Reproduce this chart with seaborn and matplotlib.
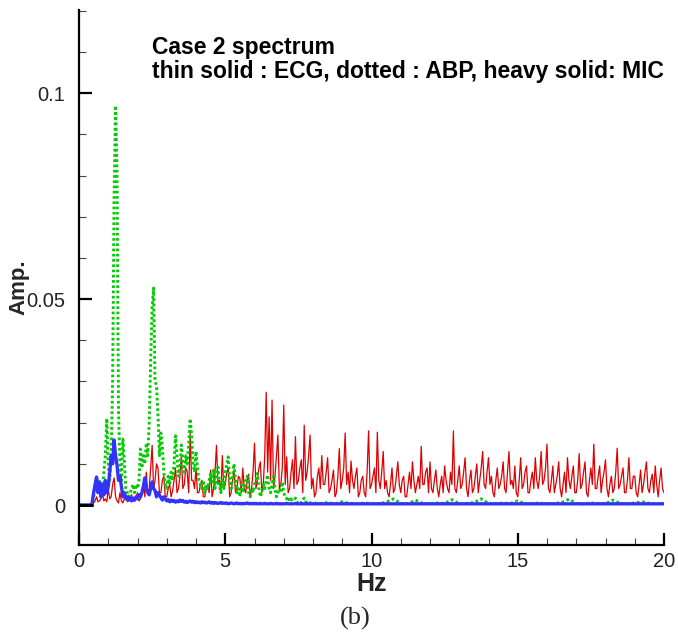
import numpy as np
import pandas as pd
import matplotlib
matplotlib.use("Agg")
import matplotlib.pyplot as plt
import seaborn as sns
from matplotlib.ticker import MultipleLocator, FixedLocator, FixedFormatter

# ---------------- data ----------------
# ECG (thin solid, red), 0.05 Hz bins from 0 to 20 Hz (one row = 1 Hz)
ecg_hz_step = 0.05
ecg_amp = [
    0, 0, 0, 0, 0, 0, 0, 0, 0, 0, 0.0005, 0.001, 0.002, 0.0008, 0.001, 0.0015, 0.003, 0.001, 0.0015, 0.0008,
    0.004, 0.0015, 0.002, 0.005, 0.0066, 0.002, 0.001, 0.0005, 0.003, 0.001, 0.0005, 0.0015, 0.002, 0.0008, 0.001, 0.002, 0.0025, 0.001, 0.001, 0.002,
    0.003, 0.001, 0.0015, 0.003, 0.005, 0.002, 0.008, 0.003, 0.004, 0.009, 0.0145, 0.004, 0.006, 0.010, 0.009, 0.003, 0.003, 0.006, 0.007, 0.002,
    0.002, 0.004, 0.005, 0.002, 0.0035, 0.006, 0.009, 0.003, 0.004, 0.007, 0.012, 0.004, 0.005, 0.009, 0.008, 0.003, 0.0175, 0.006, 0.006, 0.004,
    0.009, 0.003, 0.003, 0.005, 0.006, 0.002, 0.002, 0.004, 0.005, 0.003, 0.0085, 0.002, 0.004, 0.008, 0.0145, 0.005, 0.006, 0.003, 0.012, 0.004,
    0.005, 0.008, 0.009, 0.002, 0.003, 0.006, 0.0085, 0.003, 0.004, 0.007, 0.0065, 0.003, 0.009, 0.004, 0.003, 0.006, 0.0075, 0.002, 0.004, 0.008,
    0.015, 0.004, 0.006, 0.009, 0.0105, 0.003, 0.005, 0.012, 0.0274, 0.008, 0.0214, 0.006, 0.0255, 0.004, 0.007, 0.012, 0.017, 0.004, 0.005, 0.009,
    0.0243, 0.005, 0.0117, 0.003, 0.004, 0.008, 0.011, 0.004, 0.0166, 0.005, 0.006, 0.009, 0.011, 0.003, 0.0194, 0.006, 0.008, 0.012, 0.017, 0.004,
    0.0065, 0.002, 0.003, 0.007, 0.009, 0.004, 0.012, 0.005, 0.005, 0.008, 0.0115, 0.003, 0.004, 0.006, 0.0085, 0.002, 0.003, 0.007, 0.0137, 0.004,
    0.006, 0.009, 0.0175, 0.005, 0.008, 0.003, 0.0107, 0.006, 0.004, 0.007, 0.009, 0.002, 0.003, 0.006, 0.007, 0.003, 0.002, 0.008, 0.018, 0.004,
    0.005, 0.007, 0.009, 0.003, 0.0177, 0.006, 0.004, 0.008, 0.013, 0.004, 0.006, 0.003, 0.002, 0.005, 0.009, 0.003, 0.004, 0.007, 0.0105, 0.005,
    0.003, 0.006, 0.007, 0.002, 0.002, 0.005, 0.008, 0.004, 0.0105, 0.006, 0.003, 0.005, 0.007, 0.004, 0.0143, 0.005, 0.005, 0.008, 0.009, 0.003,
    0.0105, 0.004, 0.003, 0.006, 0.0085, 0.004, 0.002, 0.005, 0.007, 0.003, 0.0095, 0.006, 0.004, 0.003, 0.008, 0.005, 0.018, 0.004, 0.003, 0.006,
    0.0095, 0.004, 0.005, 0.008, 0.0115, 0.004, 0.002, 0.006, 0.0085, 0.003, 0.004, 0.007, 0.010, 0.003, 0.006, 0.009, 0.013, 0.005, 0.004, 0.008,
    0.0115, 0.005, 0.007, 0.003, 0.002, 0.006, 0.009, 0.004, 0.005, 0.007, 0.0105, 0.004, 0.003, 0.008, 0.013, 0.005, 0.006, 0.004, 0.0095, 0.003,
    0.002, 0.006, 0.0115, 0.004, 0.005, 0.008, 0.0095, 0.003, 0.003, 0.006, 0.008, 0.004, 0.0115, 0.006, 0.004, 0.007, 0.013, 0.005, 0.006, 0.009,
    0.0148, 0.004, 0.003, 0.006, 0.0095, 0.003, 0.005, 0.007, 0.0105, 0.004, 0.002, 0.005, 0.008, 0.003, 0.0115, 0.006, 0.004, 0.007, 0.0095, 0.003,
    0.003, 0.006, 0.0125, 0.004, 0.005, 0.008, 0.0105, 0.003, 0.002, 0.006, 0.009, 0.005, 0.0148, 0.004, 0.004, 0.007, 0.0095, 0.003, 0.006, 0.008,
    0.011, 0.004, 0.002, 0.005, 0.007, 0.003, 0.004, 0.008, 0.0138, 0.004, 0.005, 0.007, 0.009, 0.003, 0.003, 0.006, 0.0115, 0.004, 0.004, 0.007,
    0.007, 0.003, 0.002, 0.005, 0.0085, 0.003, 0.005, 0.008, 0.0105, 0.004, 0.003, 0.006, 0.0075, 0.003, 0.0095, 0.005, 0.002, 0.006, 0.009, 0.004,
    0.003,
]

# ABP (dotted, green): 0.05 Hz bins 0-8 Hz, then 0.25 Hz bins 8.25-20 Hz
abp_low_step = 0.05
abp_low = [
    0, 0, 0, 0, 0, 0, 0, 0, 0, 0.0005,
    0.002, 0.004, 0.0068, 0.005, 0.006, 0.003, 0.004, 0.008, 0.012, 0.021,
    0.010, 0.006, 0.012, 0.030, 0.075, 0.097, 0.081, 0.023, 0.010, 0.006,
    0.016, 0.011, 0.004, 0.003, 0.002, 0.003, 0.004, 0.005, 0.003, 0.005,
    0.004, 0.006, 0.0136, 0.009, 0.012, 0.010, 0.015, 0.012, 0.020, 0.035,
    0.048, 0.0527, 0.030, 0.029, 0.022, 0.012, 0.0175, 0.014, 0.008, 0.005,
    0.004, 0.007, 0.005, 0.008, 0.006, 0.010, 0.0168, 0.012, 0.007, 0.009,
    0.0146, 0.011, 0.008, 0.012, 0.010, 0.015, 0.021, 0.017, 0.010, 0.008,
    0.013, 0.009, 0.006, 0.005, 0.004, 0.006, 0.003, 0.005, 0.004, 0.006,
    0.0078, 0.005, 0.0085, 0.004, 0.007, 0.0092, 0.005, 0.003, 0.006, 0.004,
    0.008, 0.010, 0.0117, 0.006, 0.004, 0.007, 0.010, 0.006, 0.003, 0.004,
    0.002, 0.005, 0.003, 0.004, 0.006, 0.007, 0.003, 0.002, 0.004, 0.003,
    0.005, 0.006, 0.0077, 0.004, 0.002, 0.003, 0.005, 0.004, 0.006, 0.0073,
    0.004, 0.003, 0.005, 0.007, 0.004, 0.002, 0.003, 0.004, 0.003, 0.0056,
    0.003, 0.002, 0.0015, 0.002, 0.001, 0.0015, 0.001, 0.0012, 0.0017, 0.0008,
    0.0006, 0.001, 0.0005, 0.0012, 0.0017, 0.0008, 0.0005, 0.0004, 0.0006, 0.0004,
    0.0005,
]
abp_high_step = 0.25
abp_high = [
    0.0004, 0.0006, 0.0003, 0.0008, 0.0004, 0.0003, 0.0005, 0.0004,
    0.0003, 0.0007, 0.0015, 0.0004, 0.0003, 0.0012, 0.0004, 0.0003,
    0.0005, 0.0004, 0.0013, 0.0003, 0.0004, 0.0006, 0.0015, 0.0004,
    0.0003, 0.0005, 0.0004, 0.0010, 0.0003, 0.0004, 0.0005, 0.0003,
    0.0004, 0.0006, 0.0014, 0.0004, 0.0003, 0.0005, 0.0004, 0.0003,
    0.0012, 0.0004, 0.0003, 0.0005, 0.0008, 0.0004, 0.0003, 0.0004,
]

# MIC (heavy solid, blue): 0.05 Hz bins 0-8 Hz, then 0.25 Hz bins 8.25-20 Hz
mic_low = [
    0, 0, 0, 0, 0, 0, 0, 0, 0, 0.0005,
    0.003, 0.005, 0.0068, 0.003, 0.0055, 0.002, 0.005, 0.0025, 0.006, 0.003,
    0.0045, 0.008, 0.012, 0.010, 0.0158, 0.012, 0.0097, 0.006, 0.007, 0.0045,
    0.002, 0.003, 0.0015, 0.002, 0.0012, 0.0018, 0.001, 0.0017, 0.0012, 0.002,
    0.0015, 0.0025, 0.002, 0.003, 0.0045, 0.0066, 0.004, 0.003, 0.0025, 0.004,
    0.0056, 0.004, 0.0035, 0.002, 0.003, 0.0024, 0.0018, 0.0012, 0.002, 0.0015,
    0.001, 0.0013, 0.0008, 0.0012, 0.0009, 0.0011, 0.0007, 0.001, 0.0008, 0.0012,
    0.0009, 0.0011, 0.0007, 0.0009, 0.0006, 0.0008, 0.001, 0.0007, 0.0009, 0.0006,
    0.0008, 0.0006, 0.0007, 0.0005, 0.0008, 0.0006, 0.0007, 0.0005, 0.0006, 0.0008,
    0.0005, 0.0006, 0.0004, 0.0006, 0.0005, 0.0004, 0.0005, 0.0006, 0.0004, 0.0005,
    0.0004, 0.0005, 0.0003, 0.0004, 0.0005, 0.0004, 0.0003, 0.0004, 0.0005, 0.0003,
    0.0004, 0.0003, 0.0004, 0.0003, 0.0004, 0.0005, 0.0003, 0.0004, 0.0003, 0.0004,
    0.0003, 0.0004, 0.0003, 0.0003, 0.0004, 0.0003, 0.0003, 0.0004, 0.0003, 0.0003,
    0.0003, 0.0004, 0.0003, 0.0003, 0.0003, 0.0004, 0.0003, 0.0003, 0.0003, 0.0003,
    0.0003, 0.0003, 0.0004, 0.0003, 0.0003, 0.0003, 0.0003, 0.0003, 0.0004, 0.0003,
    0.0003, 0.0003, 0.0003, 0.0003, 0.0003, 0.0003, 0.0003, 0.0003, 0.0003, 0.0003,
    0.0003,
]
mic_high = [0.0003] * 48

# baseline segment (black) before the signals start
base_hz = [0.0, 0.45]
base_amp = [0.0, 0.0]

x_ticks = [0, 5, 10, 15, 20]
x_ticklabels = ["0", "5", "10", "15", "20"]
y_ticks = [0, 0.05, 0.1]
y_ticklabels = ["0", "0.05", "0.1"]

title_lines = ["Case 2 spectrum", "thin solid : ECG, dotted : ABP, heavy solid: MIC"]

# ---------------- build frames ----------------
ecg_hz = np.round(np.arange(len(ecg_amp)) * ecg_hz_step, 4)
low_hz = np.round(np.arange(len(abp_low)) * abp_low_step, 4)
high_hz = np.round(8.0 + (np.arange(len(abp_high)) + 1) * abp_high_step, 4)

ecg_df = pd.DataFrame({"Hz": ecg_hz, "Amp": ecg_amp})
abp_df = pd.DataFrame({"Hz": np.concatenate([low_hz, high_hz]),
                       "Amp": np.concatenate([abp_low, abp_high])})
mic_df = pd.DataFrame({"Hz": np.concatenate([low_hz, high_hz]),
                       "Amp": np.concatenate([mic_low, mic_high])})
base_df = pd.DataFrame({"Hz": base_hz, "Amp": base_amp})

# ---------------- plotting ----------------
sns.set_theme(style="white")
sans = ["Liberation Sans", "DejaVu Sans"]
plt.rcParams["font.family"] = sans

fig = plt.figure(figsize=(6.78, 6.34), dpi=100)
ax = fig.add_axes([79 / 678, 89 / 634, 585 / 678, 535 / 634])

sns.lineplot(data=ecg_df, x="Hz", y="Amp", ax=ax, color="#dd0000", lw=0.9,
             estimator=None, sort=False)
sns.lineplot(data=abp_df, x="Hz", y="Amp", ax=ax, color="#00cc00", lw=2.1,
             linestyle=(0, (0.9, 0.9)), estimator=None, sort=False)
sns.lineplot(data=mic_df, x="Hz", y="Amp", ax=ax, color="#3333ff", lw=2.4,
             estimator=None, sort=False)
sns.lineplot(data=base_df, x="Hz", y="Amp", ax=ax, color="black", lw=2.2,
             estimator=None, sort=False)

ax.set_xlim(0, 20)
ax.set_ylim(-0.0097, 0.1202)

for s in ["top", "right"]:
    ax.spines[s].set_visible(False)
for s in ["left", "bottom"]:
    ax.spines[s].set_linewidth(1.6)
    ax.spines[s].set_color("black")

ax.xaxis.set_major_locator(FixedLocator(x_ticks))
ax.xaxis.set_major_formatter(FixedFormatter(x_ticklabels))
ax.yaxis.set_major_locator(FixedLocator(y_ticks))
ax.yaxis.set_major_formatter(FixedFormatter(y_ticklabels))
ax.xaxis.set_minor_locator(MultipleLocator(1))
ax.yaxis.set_minor_locator(MultipleLocator(0.01))

ax.tick_params(which="major", direction="in", length=9, width=1.6,
               color="black", labelsize=14.5, labelcolor="#222222")
ax.tick_params(which="minor", direction="in", length=5, width=0.8, color="#444444")
ax.tick_params(axis="y", which="major", pad=10)
ax.tick_params(axis="x", which="major", pad=5)
ax.tick_params(bottom=True, left=True, which="both")

ax.set_xlabel("Hz", fontsize=18, fontweight="bold")
ax.xaxis.set_label_coords(0.5, -0.05)
ax.set_ylabel("Amp.", fontsize=16, fontweight="bold")
ax.yaxis.set_label_coords(-0.084, 0.482)

ax.text(0.125, 0.952, "\n".join(title_lines), transform=ax.transAxes,
        ha="left", va="top", fontsize=16.5, fontweight="bold", linespacing=1.05,
        color="black")

fig.text(355 / 678, 1 - 618 / 634, "(b)", ha="center", va="center",
         fontsize=19, family=["Liberation Serif", "DejaVu Serif"])

fig.savefig("out.png", dpi=100, facecolor="white")
